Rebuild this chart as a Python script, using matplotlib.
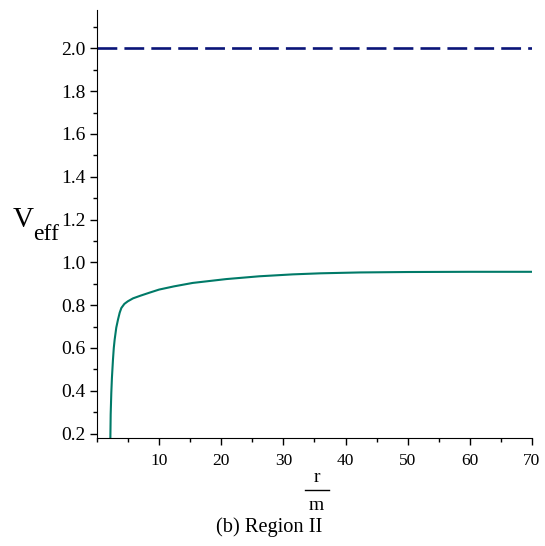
import matplotlib.pyplot as plt
from matplotlib.ticker import MultipleLocator

plt.rcParams['font.family'] = ['Liberation Serif', 'DejaVu Serif']

# values (r/m, V_eff)
r_vals = [2.15, 2.2, 2.3, 2.4, 2.57, 2.7, 2.84, 3.1, 3.38, 3.65, 3.92, 4.4, 4.95,
          5.8, 7.05, 8.5, 10.0, 12.4, 15.4, 20.8, 26.1, 31.5, 36.0, 42.3, 50.0, 60.0, 70.0]
v_vals = [0.18, 0.29, 0.39, 0.46, 0.546, 0.60, 0.639, 0.695, 0.733, 0.765, 0.787, 0.806, 0.818,
          0.832, 0.845, 0.859, 0.873, 0.888, 0.904, 0.922, 0.935, 0.944, 0.949, 0.953, 0.955, 0.956, 0.956]
asymptote = 2.0
x_range = (0, 70)

fig = plt.figure(figsize=(5.45, 5.46), dpi=100)
ax = fig.add_axes([0.178, 0.198, 0.798, 0.784])

ax.plot(r_vals, v_vals, color='#007A68', lw=1.5)
ax.plot(x_range, [asymptote, asymptote], color='#0A1478', lw=1.9,
        dashes=(7.5, 2.7))

ax.set_xlim(*x_range)
ax.set_ylim(0.18, 2.18)
ax.xaxis.set_minor_locator(MultipleLocator(5))
ax.yaxis.set_major_locator(MultipleLocator(0.2))
ax.yaxis.set_minor_locator(MultipleLocator(0.1))
ax.set_xticks([10, 20, 30, 40, 50, 60, 70])
ax.yaxis.set_major_formatter(plt.FuncFormatter(lambda v, p: f'{v:.1f}'))

for s in ['top', 'right']:
    ax.spines[s].set_visible(False)
ax.tick_params(which='major', length=5, width=1)
ax.tick_params(which='minor', length=3, width=1)
ax.tick_params(axis='x', labelsize=12.5, pad=6)
ax.tick_params(axis='y', labelsize=14, pad=3)

# axis labels
fig.text(0.024, 0.584, 'V', fontsize=21, ha='left', va='baseline')
fig.text(0.061, 0.560, 'eff', fontsize=17, ha='left', va='baseline')
fig.text(0.581, 0.125, 'r', fontsize=14, ha='center', va='center')
fig.add_artist(plt.Line2D([0.560, 0.604], [0.103, 0.103], color='black', lw=1))
fig.text(0.581, 0.075, 'm', fontsize=14, ha='center', va='center')
fig.text(0.493, 0.035, '(b) Region II', fontsize=14.7, ha='center', va='center')

plt.savefig('out.png', dpi=100)
